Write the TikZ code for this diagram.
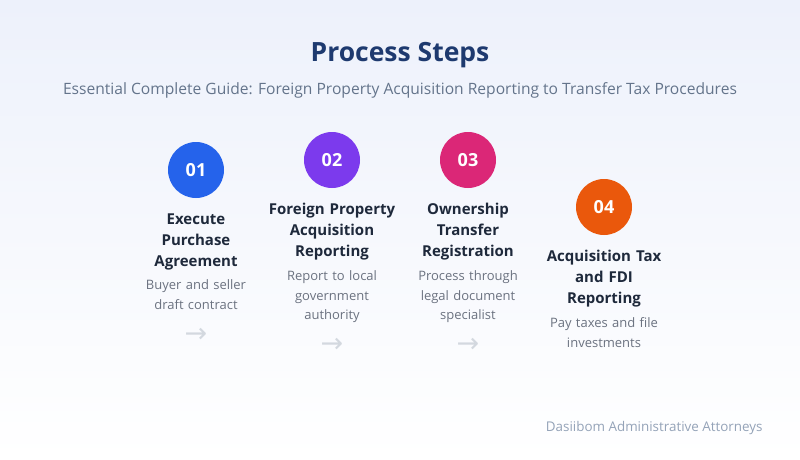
\documentclass[tikz,border=0pt]{standalone}
\usepackage{fontspec}
\setmainfont{Open Sans}
\newfontfamily\arrowfont{DejaVu Sans}
\usetikzlibrary{positioning}

\definecolor{navy}{HTML}{1E3A6F}
\definecolor{subgray}{HTML}{64748B}
\definecolor{stepdark}{HTML}{1E293B}
\definecolor{descgray}{HTML}{6B7280}
\definecolor{arrowgray}{HTML}{D3D8DF}
\definecolor{footgray}{HTML}{94A3B8}
\definecolor{bgtop}{HTML}{EDF1FB}
\definecolor{stepblue}{HTML}{2563EB}
\definecolor{steppurple}{HTML}{7C3AED}
\definecolor{steppink}{HTML}{DB2777}
\definecolor{steporange}{HTML}{EA580C}

\begin{document}
\begin{tikzpicture}[x=1pt,y=-1pt,
	badge/.style={circle, minimum size=56pt, inner sep=0pt, text=white, font=\fontsize{18}{20}\selectfont\bfseries},
	steptitle/.style={align=center, inner sep=0pt, text width=130pt, text=stepdark, font=\fontsize{15}{21}\selectfont\bfseries},
	stepdesc/.style={align=center, inner sep=0pt, text width=130pt, text=descgray, font=\fontsize{13}{19.5}\selectfont},
	nextarrow/.style={inner sep=0pt, text=arrowgray, font=\arrowfont\fontsize{27}{27}\selectfont}]

	\useasboundingbox (0,0) rectangle (800,460);
	\shade[top color=bgtop, bottom color=white] (0,0) rectangle (800,460);

	\node[text=navy, font=\fontsize{26.5}{30}\selectfont\bfseries] (title) at (400,55) {Process Steps};
	\node[text=subgray, font=\fontsize{15.6}{18}\selectfont] (subtitle) at (400,90) {Essential Complete Guide: Foreign Property Acquisition Reporting to Transfer Tax Procedures};

	% step 1
	\node[badge, fill=stepblue] (badge1) at (196,170) {01};
	\node[steptitle, below = 15pt of badge1] (title1) {Execute\\Purchase\\Agreement};
	\node[stepdesc, below = 10pt of title1] (desc1) {Buyer and seller\\draft contract};
	\node[nextarrow] (arrow1) at (196,335) {→};

	% step 2
	\node[badge, fill=steppurple] (badge2) at (332,160) {02};
	\node[steptitle, below = 15pt of badge2] (title2) {Foreign Property\\Acquisition\\Reporting};
	\node[stepdesc, below = 10pt of title2] (desc2) {Report to local\\government\\authority};
	\node[nextarrow] (arrow2) at (332,345) {→};

	% step 3
	\node[badge, fill=steppink] (badge3) at (468,160) {03};
	\node[steptitle, below = 15pt of badge3] (title3) {Ownership\\Transfer\\Registration};
	\node[stepdesc, below = 10pt of title3] (desc3) {Process through\\legal document\\specialist};
	\node[nextarrow] (arrow3) at (468,345) {→};

	% step 4
	\node[badge, fill=steporange] (badge4) at (604,207) {04};
	\node[steptitle, below = 15pt of badge4] (title4) {Acquisition Tax\\and FDI\\Reporting};
	\node[stepdesc, below = 10pt of title4] (desc4) {Pay taxes and file\\investments};

	\node[anchor=east, text=footgray, font=\fontsize{13.4}{16}\selectfont] (footer) at (766,428) {Dasiibom Administrative Attorneys};

\end{tikzpicture}
\end{document}
